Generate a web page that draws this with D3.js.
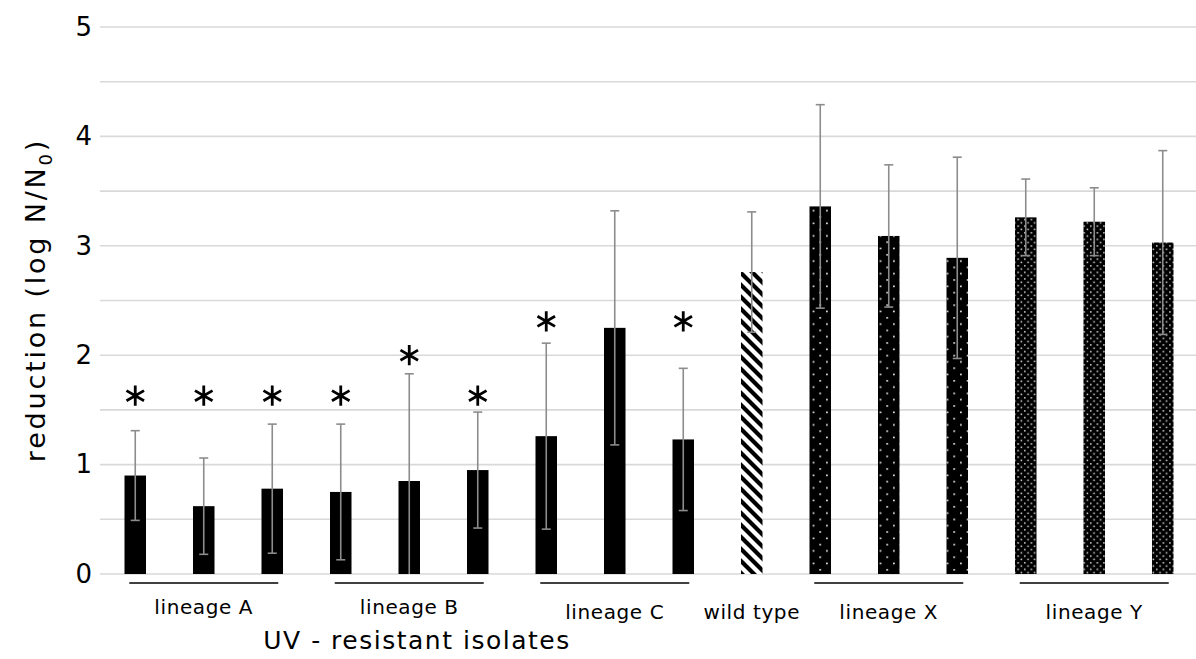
<!DOCTYPE html>
<html>
<head>
<meta charset="utf-8">
<script src="https://cdn.jsdelivr.net/npm/d3@7"></script>
<style>
  body { margin: 0; background: #fff; }
  text { font-family: "DejaVu Sans", Verdana, sans-serif; fill: #000; }
</style>
</head>
<body>
<div id="chart"></div>
<script>
// values
var isolates = ["A1", "A2", "A3", "B1", "B2", "B3", "C1", "C2", "C3", "WT", "X1", "X2", "X3", "Y1", "Y2", "Y3"];
var reduction = [0.90, 0.62, 0.78, 0.75, 0.85, 0.95, 1.26, 2.25, 1.23, 2.76, 3.36, 3.09, 2.89, 3.26, 3.22, 3.03];
var errors = [0.41, 0.44, 0.59, 0.62, 0.98, 0.53, 0.85, 1.07, 0.65, 0.55, 0.93, 0.65, 0.92, 0.35, 0.31, 0.84];
var fills = ["solid", "solid", "solid", "solid", "solid", "solid", "solid", "solid", "solid",
             "stripes", "sparse", "sparse", "sparse", "dense", "dense", "dense"];
// significance marks: bar index and height (in log units) of the star
var stars = [[0, 1.63], [1, 1.63], [2, 1.63], [3, 1.63], [4, 2.0], [5, 1.63], [6, 2.31], [8, 2.31]];
var groups = [
  { name: "lineage A", first: 0, last: 2, line: true },
  { name: "lineage B", first: 3, last: 5, line: true },
  { name: "lineage C", first: 6, last: 8, line: true },
  { name: "wild type", first: 9, last: 9, line: false },
  { name: "lineage X", first: 10, last: 12, line: true },
  { name: "lineage Y", first: 13, last: 15, line: true }
];
var yTicks = [0, 0.5, 1, 1.5, 2, 2.5, 3, 3.5, 4, 4.5, 5];

var width = 1196, height = 659;

var svg = d3.select("#chart").append("svg")
    .attr("width", width)
    .attr("height", height);

// patterns for the bar fills
var defs = svg.append("defs");

var stripes = defs.append("pattern")
    .attr("id", "stripes")
    .attr("patternUnits", "userSpaceOnUse")
    .attr("width", 12).attr("height", 12);
stripes.append("rect").attr("width", 12).attr("height", 12).attr("fill", "#fff");
stripes.append("path")
    .attr("d", "M-3,-3L15,15M-3,9L3,15M9,-3L15,3")
    .attr("stroke", "#000")
    .attr("stroke-width", 4.2);

var sparse = defs.append("pattern")
    .attr("id", "sparse")
    .attr("patternUnits", "userSpaceOnUse")
    .attr("width", 13.4).attr("height", 12.6);
sparse.append("rect").attr("width", 13.4).attr("height", 12.6).attr("fill", "#000");
sparse.append("rect").attr("x", 2).attr("y", 2).attr("width", 1.6).attr("height", 1.6).attr("fill", "#fff");
sparse.append("rect").attr("x", 8.7).attr("y", 8.3).attr("width", 1.6).attr("height", 1.6).attr("fill", "#fff");

var dense = defs.append("pattern")
    .attr("id", "dense")
    .attr("patternUnits", "userSpaceOnUse")
    .attr("width", 6.6).attr("height", 6.6);
dense.append("rect").attr("width", 6.6).attr("height", 6.6).attr("fill", "#000");
dense.append("rect").attr("x", 1).attr("y", 1).attr("width", 1.5).attr("height", 1.5).attr("fill", "#ddd");
dense.append("rect").attr("x", 4.3).attr("y", 4.3).attr("width", 1.5).attr("height", 1.5).attr("fill", "#ddd");

var fillOf = function(f) {
    if (f === "solid") return "#000";
    return "url(#" + f + ")";
};

// scales
var x = d3.scaleBand()
    .domain(d3.range(isolates.length))
    .range([101, 1197])
    .paddingInner(0.686)
    .paddingOuter(0.343);

var y = d3.scaleLinear().domain([0, 5]).range([574, 27]);

// gridlines
svg.append("g")
    .selectAll("line")
    .data(yTicks)
    .enter().append("line")
    .attr("x1", 100).attr("x2", width)
    .attr("y1", function(d) { return y(d); })
    .attr("y2", function(d) { return y(d); })
    .attr("stroke", "#d9d9d9")
    .attr("stroke-width", 1.6);

// y axis labels (integers only)
var yAxis = d3.axisLeft(y)
    .tickValues([0, 1, 2, 3, 4, 5])
    .tickFormat(d3.format("d"))
    .tickSize(0)
    .tickPadding(8);

var gY = svg.append("g")
    .attr("transform", "translate(100,0)")
    .call(yAxis);
gY.select(".domain").remove();
gY.selectAll("text")
    .style("font-family", "DejaVu Sans, Verdana, sans-serif")
    .style("font-size", "26px")
    .attr("fill", "#000");

// y axis title
var yTitle = svg.append("text")
    .attr("transform", "translate(45,300) rotate(-90)")
    .attr("text-anchor", "middle")
    .style("font-size", "27px")
    .style("letter-spacing", "2.8px");
yTitle.append("tspan").text("reduction (log N/N");
yTitle.append("tspan").attr("dy", 7).style("font-size", "18px").text("0");
yTitle.append("tspan").attr("dy", -7).text(")");

// bars
svg.append("g")
    .selectAll("rect")
    .data(reduction)
    .enter().append("rect")
    .attr("x", function(d, i) { return x(i); })
    .attr("width", x.bandwidth())
    .attr("y", function(d) { return y(d); })
    .attr("height", function(d) { return y(0) - y(d); })
    .attr("fill", function(d, i) { return fillOf(fills[i]); });

// error bars
var eb = svg.append("g")
    .attr("stroke", "#8c8c8c")
    .attr("stroke-width", 1.6);

reduction.forEach(function(v, i) {
    var cx = x(i) + x.bandwidth() / 2;
    var hi = v + errors[i], lo = Math.max(0, v - errors[i]);
    eb.append("line")
        .attr("x1", cx).attr("x2", cx)
        .attr("y1", y(hi)).attr("y2", y(lo));
    eb.append("line")
        .attr("x1", cx - 4.5).attr("x2", cx + 4.5)
        .attr("y1", y(hi)).attr("y2", y(hi));
    if (v - errors[i] > 0) {
        eb.append("line")
            .attr("x1", cx - 4.5).attr("x2", cx + 4.5)
            .attr("y1", y(lo)).attr("y2", y(lo));
    }
});

// significance stars
var star = d3.symbol().type(d3.symbolAsterisk).size(290);
svg.append("g")
    .selectAll("path")
    .data(stars)
    .enter().append("path")
    .attr("d", star)
    .attr("transform", function(d) {
        return "translate(" + (x(d[0]) + x.bandwidth() / 2) + "," + y(d[1]) + ")";
    })
    .attr("fill", "none")
    .attr("stroke", "#000")
    .attr("stroke-width", 2.8);

// group brackets and names
var center = function(i) { return x(i) + x.bandwidth() / 2; };

svg.append("g")
    .selectAll("line")
    .data(groups.filter(function(g) { return g.line; }))
    .enter().append("line")
    .attr("x1", function(g) { return center(g.first) - 6; })
    .attr("x2", function(g) { return center(g.last) + 6; })
    .attr("y1", 583).attr("y2", 583)
    .attr("stroke", "#000")
    .attr("stroke-width", 1.5);

svg.append("g")
    .selectAll("text")
    .data(groups)
    .enter().append("text")
    .attr("x", function(g) { return (center(g.first) + center(g.last)) / 2; })
    .attr("y", function(g, i) { return i < 2 ? 614 : 619; })
    .attr("text-anchor", "middle")
    .style("font-size", "20px")
    .style("letter-spacing", "0.6px")
    .text(function(g) { return g.name; });

svg.append("text")
    .attr("x", 417)
    .attr("y", 649)
    .attr("text-anchor", "middle")
    .style("font-size", "25px")
    .style("letter-spacing", "1.5px")
    .text("UV - resistant isolates");
</script>
</body>
</html>
